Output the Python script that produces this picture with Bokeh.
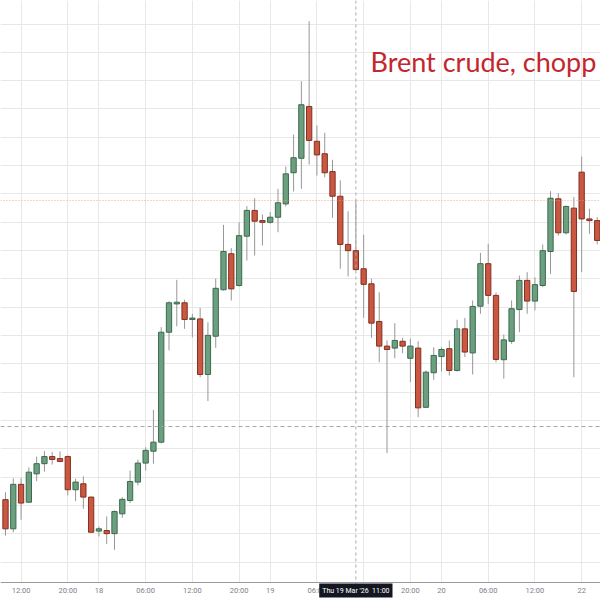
import numpy as np

from bokeh.plotting import figure
from bokeh.models import (ColumnDataSource, Range1d, FixedTicker, Span, Label,
                          Grid, BoxAnnotation)
from bokeh.embed import file_html
from bokeh.resources import INLINE

# Brent crude hourly candles (oldest first)
opens = [93.21, 92.18, 93.75, 93.12, 94.12, 94.48, 94.73, 94.66, 94.73, 93.56,
         93.77, 93.30, 92.10, 92.12, 92.01, 92.71, 93.18, 93.83, 94.50, 94.92,
         95.24, 99.12, 100.12, 100.16, 99.57, 99.59, 97.63, 98.98, 100.62, 101.89,
         100.77, 102.51, 103.42, 103.06, 103.00, 103.18, 103.65, 104.75, 105.26, 107.09,
         105.86, 105.42, 104.79, 103.92, 102.22, 102.00, 101.36, 100.83, 99.50, 98.63,
         98.56, 98.80, 98.20, 98.56, 96.47, 97.69, 98.26, 98.54, 97.77, 99.24,
         98.39, 100.04, 101.54, 100.42, 98.15, 98.80, 99.92, 100.95, 100.22, 100.77,
         101.97, 103.83, 102.63, 103.50, 104.77, 103.12, 103.06]
highs = [93.47, 93.96, 93.97, 94.35, 94.73, 94.92, 94.89, 94.91, 94.77, 93.95,
         94.03, 93.32, 92.26, 92.62, 92.83, 93.30, 94.24, 94.62, 95.06, 96.38,
         99.30, 100.21, 100.97, 100.27, 99.77, 99.98, 99.47, 101.01, 102.91, 102.09,
         103.00, 103.57, 103.85, 103.28, 103.36, 104.18, 104.97, 106.10, 107.98, 110.10,
         106.42, 106.16, 105.21, 104.48, 103.39, 103.77, 102.56, 101.01, 100.53, 98.83,
         99.44, 98.92, 98.89, 98.80, 97.77, 98.59, 98.58, 98.83, 99.56, 99.62,
         100.24, 101.92, 102.24, 100.52, 99.04, 100.24, 101.12, 101.24, 101.06, 102.22,
         104.10, 104.03, 103.59, 103.89, 105.32, 103.48, 103.18]
lows = [91.94, 92.06, 92.50, 93.09, 93.86, 94.20, 94.45, 94.53, 93.36, 93.16,
        92.89, 92.05, 91.91, 91.65, 91.44, 92.57, 93.09, 93.71, 94.24, 94.48,
        95.19, 98.48, 99.33, 99.24, 98.94, 97.53, 96.69, 98.57, 100.59, 100.24,
        100.73, 101.65, 101.83, 102.18, 102.95, 102.65, 103.56, 104.09, 104.18, 105.04,
        104.65, 104.59, 103.16, 101.36, 101.09, 101.30, 99.63, 98.92, 98.06, 94.85,
        98.20, 98.38, 97.36, 96.12, 96.45, 97.44, 97.74, 97.59, 97.73, 98.24,
        97.63, 99.77, 100.12, 98.06, 97.48, 98.71, 99.12, 99.77, 99.89, 100.71,
        101.18, 102.53, 102.57, 97.53, 101.24, 102.59, 102.22]
closes = [92.18, 93.75, 93.09, 94.18, 94.48, 94.73, 94.63, 94.56, 93.56, 93.83,
          93.30, 92.06, 92.18, 92.01, 92.79, 93.22, 93.85, 94.50, 94.95, 95.24,
          99.12, 100.16, 100.18, 99.57, 99.62, 97.63, 99.01, 100.67, 101.97, 100.65,
          102.53, 103.42, 103.04, 103.00, 103.18, 103.69, 104.71, 105.28, 107.15, 105.89,
          105.38, 104.75, 103.92, 102.22, 102.00, 101.33, 100.81, 99.44, 98.63, 98.51,
          98.83, 98.63, 98.63, 96.45, 97.71, 98.30, 98.51, 97.77, 99.24, 98.42,
          100.03, 101.54, 100.42, 98.16, 98.85, 99.95, 100.95, 100.22, 100.80, 102.00,
          103.85, 102.63, 103.56, 100.56, 103.12, 103.06, 102.36]

# time axis labels, placed on bar numbers
tick_bars = [2, 8, 12, 18, 24, 30, 34, 40, 46, 52, 56, 62, 68, 74]
tick_labels = ["12:00", "20:00", "18", "06:00", "12:00", "20:00", "19",
               "06:00", "", "20:00", "20", "06:00", "12:00", "22"]
price_grid = list(range(91, 111))

price_line = 103.77     # orange dotted level
dashed_level = 95.79    # grey dashed level
axis_level = 90.29      # where the time scale sits
crosshair_bar = 45
crosshair_text = "Thu 19 Mar '26\u00a0\u00a011:00"
title_text = "Brent crude, chopp"

GREEN, GREEN_EDGE = "#6c9f80", "#3b6a4d"
RED, RED_EDGE = "#c95742", "#82301f"
WICK = "#979797"

o = np.array(opens)
c = np.array(closes)
up = c >= o
source = ColumnDataSource(dict(
    x=np.arange(len(opens)),
    top=np.maximum(o, c),
    bottom=np.minimum(o, c),
    high=highs,
    low=lows,
    fill=np.where(up, GREEN, RED),
    edge=np.where(up, GREEN_EDGE, RED_EDGE),
))

p = figure(width=600, height=600, output_backend="svg",
           toolbar_location=None, y_axis_location=None,
           x_range=Range1d(-0.642, 76.42), y_range=Range1d(89.65, 110.83),
           min_border=0)
p.outline_line_color = None
p.background_fill_color = "white"
p.border_fill_color = "white"

# grid
p.xgrid.ticker = FixedTicker(ticks=tick_bars)
p.xgrid.grid_line_color = "#e8e8e8"
if len(p.ygrid) == 0:
    p.add_layout(Grid(dimension=1, ticker=FixedTicker(ticks=price_grid)))
for g in p.ygrid:
    g.ticker = FixedTicker(ticks=price_grid)
    g.grid_line_color = "#e8e8e8"

# blank strip under the time scale
p.add_layout(BoxAnnotation(top=axis_level, fill_color="white", fill_alpha=1,
                           line_color=None, level="underlay"))

# x axis, drawn inside the frame
ax = p.xaxis[0]
ax.fixed_location = axis_level
ax.ticker = FixedTicker(ticks=tick_bars)
ax.major_label_overrides = {b: t for b, t in zip(tick_bars, tick_labels)}
ax.axis_line_color = "#9a9a9a"
ax.major_tick_line_color = None
ax.minor_tick_line_color = None
ax.major_tick_out = 0
ax.major_tick_in = 0
ax.major_label_standoff = 4
ax.major_label_text_font = "Roboto"
ax.major_label_text_font_size = "7.5px"
ax.major_label_text_color = "#7d808a"

# levels and crosshair
p.add_layout(Span(location=price_line, dimension="width", line_color="#e5a07a",
                  line_alpha=0.85, line_dash="1 2", line_width=1))
p.add_layout(Span(location=dashed_level, dimension="width", line_color="#a4a4a4",
                  line_dash="4 3", line_width=1))
p.add_layout(Span(location=crosshair_bar, dimension="height", line_color="#a8aab2",
                  line_dash="3 3", line_width=1))

# candles
p.segment("x", "high", "x", "low", source=source, line_color=WICK, line_width=1)
p.vbar(x="x", width=0.68, top="top", bottom="bottom", source=source,
       fill_color="fill", line_color="edge", line_width=1)

p.add_layout(Label(x=370, y=539, x_units="screen", y_units="screen",
                   text=title_text, text_font="Lato", text_font_size="27px",
                   text_color="#c4262e", text_baseline="alphabetic"))

p.add_layout(Label(x=crosshair_bar, y=10, x_units="data", y_units="screen",
                   text=crosshair_text, text_font="Roboto", text_font_size="7px",
                   text_color="white", text_align="center", text_baseline="middle",
                   background_fill_color="#131722", padding=(3, 3)))

open("out.html", "w").write(file_html(p, INLINE))
